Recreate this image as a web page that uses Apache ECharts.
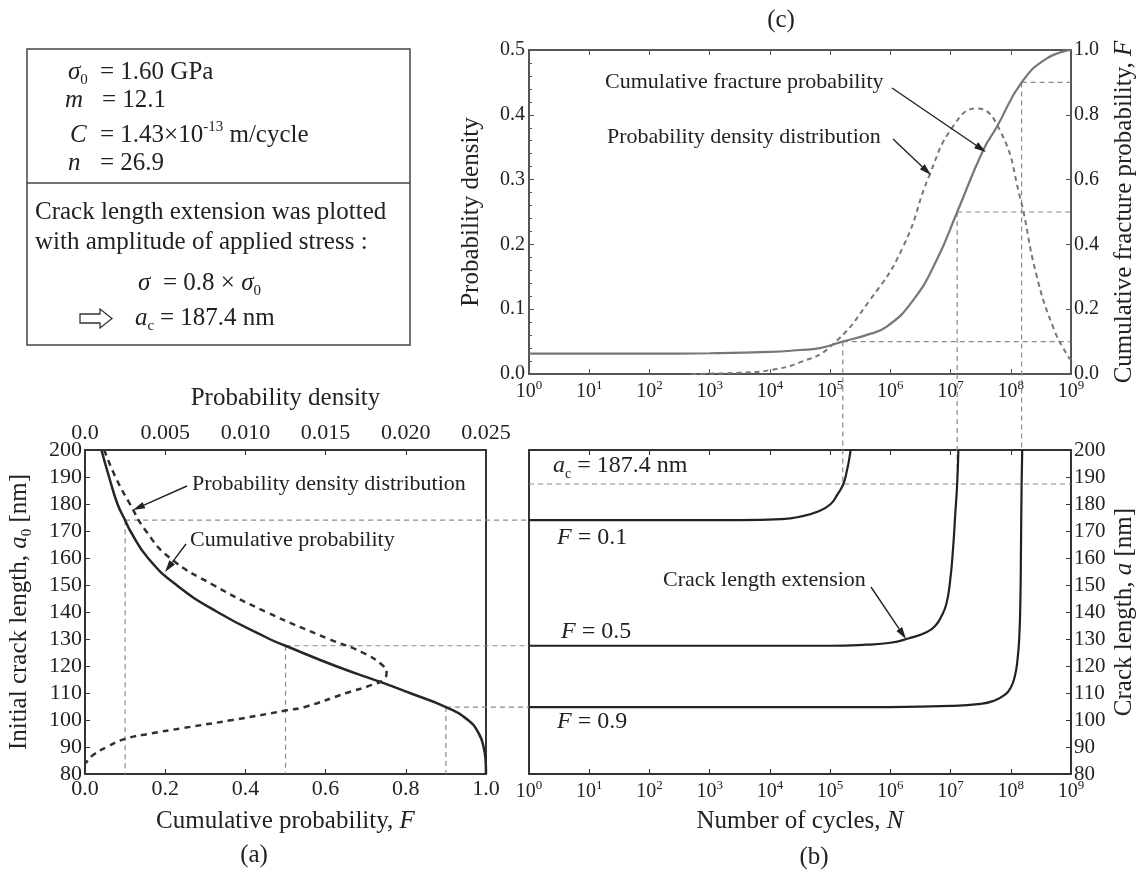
<!DOCTYPE html>
<html>
<head>
<meta charset="utf-8">
<title>Crack length extension and fracture probability</title>
<script src="https://cdn.jsdelivr.net/npm/echarts@6.0.0/dist/echarts.min.js"></script>
<style>
  html, body { margin: 0; background: #fff; }
  #chart { width: 1137px; height: 872px; }
</style>
</head>
<body>
<div id="chart"></div>
<script>
const FF = "'Liberation Serif', 'Times New Roman', serif";
const INK = '#222';

// (a) initial crack length a0 [nm] against cumulative probability F and its density
const a0Cum = [200, 190, 180, 174, 170, 160, 150, 140, 130, 127.5, 120, 114, 110, 104.8, 100, 95, 90, 85, 80];
const fCum = [0.041, 0.06, 0.081, 0.1, 0.113, 0.157, 0.228, 0.33, 0.46, 0.5, 0.625, 0.738, 0.81, 0.9, 0.955, 0.982, 0.994, 0.999, 1.0];
const a0Pdf = [200, 190, 180, 170, 160, 150, 140, 130, 125, 120, 117.5, 115, 113, 110, 105, 103.5, 100, 97, 95, 93, 90, 87, 84];
const pdfA0 = [0.0012, 0.0019, 0.0028, 0.0038, 0.0053, 0.008, 0.0113, 0.0152, 0.0173, 0.0186, 0.0188, 0.0186, 0.0179, 0.0163, 0.0138, 0.0125, 0.0092, 0.0061, 0.0041, 0.0025, 0.00135, 0.0005, 0.00005];

// (b) crack growth, exponent of N (cycles) and crack length a [nm], for F = 0.1, 0.5, 0.9
const growthLogN01 = [0, 3.5, 4.2, 4.5, 4.8, 5.0, 5.12, 5.22, 5.28, 5.32, 5.34];
const growthA01 = [174, 174, 174.4, 175.3, 177.2, 179.8, 183.5, 187.4, 192.5, 197, 200];
const growthLogN05 = [0, 5, 5.6, 6, 6.3, 6.6, 6.75, 6.85, 6.93, 6.99, 7.04, 7.08, 7.11, 7.13];
const growthA05 = [127.5, 127.5, 127.9, 128.6, 130.2, 132.5, 135, 138.5, 143, 151, 163, 177, 187.4, 200];
const growthLogN09 = [0, 6, 7, 7.5, 7.7, 7.9, 8.0, 8.07, 8.11, 8.14, 8.16, 8.17, 8.18, 8.19];
const growthA09 = [104.8, 104.8, 105.2, 106, 107, 109.3, 112, 116.5, 122, 130, 145, 165, 187.4, 200];
const acLength = 187.4;

// (c) fracture probability against exponent of N
const cdfLogN = [0, 2, 3, 4, 4.5, 4.83, 5.21, 5.6, 5.94, 6.38, 6.77, 7.11, 7.54, 7.77, 8.18, 8.6, 9];
const cdfF = [0.063, 0.063, 0.064, 0.068, 0.074, 0.08, 0.1, 0.12, 0.146, 0.228, 0.352, 0.5, 0.69, 0.763, 0.9, 0.974, 1.0];
const pdfLogN = [2.7, 3, 3.5, 4, 4.5, 5, 5.66, 6.21, 6.65, 7.04, 7.43, 7.82, 8.15, 8.42, 8.7, 8.95, 9];
const pdfN = [0, 0.0005, 0.002, 0.006, 0.018, 0.042, 0.114, 0.196, 0.307, 0.382, 0.41, 0.376, 0.274, 0.155, 0.073, 0.027, 0.022];

// reference levels
const levelF = [0.1, 0.5, 0.9];
const levelA0 = [174, 127.5, 104.8];
const levelLogN = [5.21, 7.11, 8.18];

const pow10 = e => Math.pow(10, e);
const zip = (xs, ys) => xs.map((x, i) => [x, ys[i]]);
const zipLog = (es, ys) => es.map((e, i) => [pow10(e), ys[i]]);

function richSet(size) {
  const small = Math.round(size * 0.6);
  return {
    i: { fontFamily: FF, fontSize: size, fontStyle: 'italic', lineHeight: size + 6, color: INK, fill: INK },
    sub: { fontFamily: FF, fontSize: small, lineHeight: small, verticalAlign: 'bottom', color: INK, fill: INK },
    sup: { fontFamily: FF, fontSize: small, lineHeight: small, verticalAlign: 'top', color: INK, fill: INK }
  };
}

function nameStyle(size) {
  return { fontFamily: FF, fontSize: size, color: INK, lineHeight: size + 6, rich: richSet(size) };
}

function frameLine(color, width) {
  return { show: true, onZero: false, lineStyle: { color, width } };
}

function ticks(color) {
  return { show: true, inside: true, length: 5, lineStyle: { color, width: 1 } };
}

const decadeLabel = v => '{b|10}{s|' + Math.round(Math.log10(v)) + '}';
const decadeRich = {
  b: { fontFamily: FF, fontSize: 20, lineHeight: 26, color: INK },
  s: { fontFamily: FF, fontSize: 13, lineHeight: 13, verticalAlign: 'top', color: INK }
};

function logAxis(gridIndex, position, withLabels, color, extra) {
  return Object.assign({
    type: 'log', logBase: 10, gridIndex, position, min: 1, max: 1e9,
    axisLine: frameLine(color, 2),
    axisTick: ticks(color),
    splitLine: { show: false },
    axisLabel: withLabels
      ? { show: true, formatter: decadeLabel, rich: decadeRich, margin: 5 }
      : { show: false }
  }, extra || {});
}

function curve(xi, yi, data, color, width, type) {
  return {
    type: 'line', xAxisIndex: xi, yAxisIndex: yi, data,
    symbol: 'none', showSymbol: false, silent: true, z: 3,
    smooth: 0.5,
    lineStyle: { color, width, type }
  };
}

function guide(xi, yi, data) {
  return {
    type: 'line', xAxisIndex: xi, yAxisIndex: yi, data,
    symbol: 'none', showSymbol: false, silent: true, z: 2,
    lineStyle: { color: '#8a8a8a', width: 1.2, type: [5, 4] }
  };
}

const DARK = '#333';
const GREY = '#555';

const series = [
  // (a)
  curve(0, 0, zip(fCum, a0Cum), '#262626', 2.5, 'solid'),
  curve(1, 0, zip(pdfA0, a0Pdf), '#303030', 2.5, [6, 5]),
  // (b)
  curve(2, 3, zipLog(growthLogN01, growthA01), '#222', 2.2, 'solid'),
  curve(2, 3, zipLog(growthLogN05, growthA05), '#222', 2.2, 'solid'),
  curve(2, 3, zipLog(growthLogN09, growthA09), '#222', 2.2, 'solid'),
  guide(2, 3, [[1, acLength], [1e9, acLength]]),
  // (c)
  curve(4, 5, zipLog(cdfLogN, cdfF), '#777', 2.2, 'solid'),
  curve(4, 4, zipLog(pdfLogN, pdfN), '#777', 2, [5, 4])
];
levelF.forEach((f, i) => {
  series.push(guide(0, 0, [[f, levelA0[i]], [f, 80]]));
  series.push(guide(4, 5, [[pow10(levelLogN[i]), f], [1e9, f]]));
});

const option = {
  animation: false,
  backgroundColor: '#fff',
  textStyle: { fontFamily: FF, color: INK },
  grid: [
    { left: 85, top: 450, width: 401, height: 324, outerBoundsMode: 'none' },
    { left: 529, top: 450, width: 542, height: 324, outerBoundsMode: 'none' },
    { left: 529, top: 50, width: 542, height: 324, outerBoundsMode: 'none' }
  ],
  xAxis: [
    {
      type: 'value', gridIndex: 0, position: 'bottom', min: 0, max: 1, interval: 0.2,
      axisLine: frameLine(DARK, 2), axisTick: ticks(DARK), splitLine: { show: false },
      axisLabel: { formatter: v => v.toFixed(1), fontFamily: FF, fontSize: 22, color: INK, margin: 4 },
      name: 'Cumulative probability, {i|F}', nameLocation: 'middle', nameGap: 32, nameTextStyle: nameStyle(25)
    },
    {
      type: 'value', gridIndex: 0, position: 'top', min: 0, max: 0.025, interval: 0.005,
      axisLine: frameLine(DARK, 2), axisTick: ticks(DARK), splitLine: { show: false },
      axisLabel: { formatter: v => (v === 0 ? '0.0' : v.toFixed(3)), fontFamily: FF, fontSize: 22, color: INK, margin: 6 },
      name: 'Probability density', nameLocation: 'middle', nameGap: 36, nameTextStyle: nameStyle(25)
    },
    logAxis(1, 'bottom', true, DARK, {
      name: 'Number of cycles, {i|N}', nameLocation: 'middle', nameGap: 32, nameTextStyle: nameStyle(25)
    }),
    logAxis(1, 'top', false, DARK),
    logAxis(2, 'bottom', true, GREY),
    logAxis(2, 'top', false, GREY)
  ],
  yAxis: [
    {
      type: 'value', gridIndex: 0, position: 'left', min: 80, max: 200, interval: 10,
      axisLine: frameLine(DARK, 2), axisTick: ticks(DARK), splitLine: { show: false },
      axisLabel: { fontFamily: FF, fontSize: 22, color: INK, margin: 3 },
      name: 'Initial crack length, {i|a}{sub|0} [nm]', nameLocation: 'middle', nameRotate: 90, nameGap: 50,
      nameTextStyle: nameStyle(25)
    },
    {
      type: 'value', gridIndex: 0, position: 'right', min: 80, max: 200, interval: 10,
      axisLine: frameLine(DARK, 2), axisTick: { show: false }, splitLine: { show: false }, axisLabel: { show: false }
    },
    {
      type: 'value', gridIndex: 1, position: 'left', min: 80, max: 200, interval: 10,
      axisLine: frameLine(DARK, 2), axisTick: { show: false }, splitLine: { show: false }, axisLabel: { show: false }
    },
    {
      type: 'value', gridIndex: 1, position: 'right', min: 80, max: 200, interval: 10,
      axisLine: frameLine(DARK, 2), axisTick: ticks(DARK), splitLine: { show: false },
      axisLabel: { fontFamily: FF, fontSize: 21, color: INK, margin: 3 },
      name: 'Crack length, {i|a} [nm]', nameLocation: 'middle', nameRotate: 90, nameGap: 38,
      nameTextStyle: nameStyle(25)
    },
    {
      type: 'value', gridIndex: 2, position: 'left', min: 0, max: 0.5, interval: 0.1,
      axisLine: frameLine(GREY, 2), axisTick: ticks(GREY),
      minorTick: { show: true, splitNumber: 5, length: 3, lineStyle: { color: GREY } },
      splitLine: { show: false },
      axisLabel: { formatter: v => v.toFixed(1), fontFamily: FF, fontSize: 20, color: INK, margin: 4 },
      name: 'Probability density', nameLocation: 'middle', nameRotate: 90, nameGap: 42,
      nameTextStyle: nameStyle(25)
    },
    {
      type: 'value', gridIndex: 2, position: 'right', min: 0, max: 1, interval: 0.2,
      axisLine: frameLine(GREY, 2), axisTick: ticks(GREY), splitLine: { show: false },
      axisLabel: { formatter: v => v.toFixed(1), fontFamily: FF, fontSize: 20, color: INK, margin: 3 },
      name: 'Cumulative fracture probability, {i|F}', nameLocation: 'middle', nameRotate: 90, nameGap: 38,
      nameTextStyle: nameStyle(25)
    }
  ],
  series
};

const chart = echarts.init(document.getElementById('chart'), null, { renderer: 'canvas' });
chart.setOption(option);

// ---- annotations ----
function text(str, x, y, size, align) {
  return {
    type: 'text', silent: true, z: 10,
    style: {
      text: str, x, y, fill: INK, fontFamily: FF, fontSize: size, lineHeight: size + 6,
      align: align || 'left', textAlign: align || 'left',
      verticalAlign: 'middle', textVerticalAlign: 'middle',
      rich: richSet(size)
    }
  };
}

function arrow(x1, y1, x2, y2) {
  const ang = Math.atan2(y2 - y1, x2 - x1);
  const L = 12, W = 3.5;
  const bx = x2 - L * Math.cos(ang), by = y2 - L * Math.sin(ang);
  const nx = -Math.sin(ang) * W, ny = Math.cos(ang) * W;
  return [
    { type: 'line', silent: true, z: 10, shape: { x1, y1, x2: bx, y2: by }, style: { stroke: INK, lineWidth: 1.4 } },
    { type: 'polygon', silent: true, z: 10, shape: { points: [[x2, y2], [bx + nx, by + ny], [bx - nx, by - ny]] }, style: { fill: INK } }
  ];
}

function dashed(p, q) {
  return {
    type: 'line', silent: true, z: 2,
    shape: { x1: p[0], y1: p[1], x2: q[0], y2: q[1] },
    style: { stroke: '#8a8a8a', lineWidth: 1.2, lineDash: [5, 4] }
  };
}

const elements = [];

// parameter box
elements.push({ type: 'rect', silent: true, shape: { x: 27, y: 49, width: 383, height: 296 }, style: { fill: 'none', stroke: '#444', lineWidth: 1.5 } });
elements.push({ type: 'line', silent: true, shape: { x1: 27, y1: 183, x2: 410, y2: 183 }, style: { stroke: '#444', lineWidth: 1.5 } });
elements.push(text('{i|σ}{sub|0}', 68, 72, 25));
elements.push(text('= 1.60 GPa', 100, 72, 25));
elements.push(text('{i|m}', 65, 100, 25));
elements.push(text('= 12.1', 102, 100, 25));
elements.push(text('{i|C}', 70, 135, 25));
elements.push(text('= 1.43×10{sup|-13} m/cycle', 100, 135, 25));
elements.push(text('{i|n}', 68, 163, 25));
elements.push(text('= 26.9', 100, 163, 25));
elements.push(text('Crack length extension was plotted', 35, 212, 25));
elements.push(text('with amplitude of applied stress :', 35, 242, 25));
elements.push(text('{i|σ}', 138, 283, 25));
elements.push(text('= 0.8 × {i|σ}{sub|0}', 163, 283, 25));
elements.push({
  type: 'polygon', silent: true,
  shape: { points: [[80, 314], [100, 314], [100, 309], [112, 318.5], [100, 328], [100, 323], [80, 323]] },
  style: { fill: 'none', stroke: '#333', lineWidth: 1.3 }
});
elements.push(text('{i|a}{sub|c}', 135, 318, 25));
elements.push(text('= 187.4 nm', 160, 318, 25));

// panel captions
elements.push(text('(a)', 254, 855, 25, 'center'));
elements.push(text('(b)', 814, 857, 25, 'center'));
elements.push(text('(c)', 781, 20, 25, 'center'));

// (c) labels
elements.push(text('Cumulative fracture probability', 605, 82, 22));
elements.push(...arrow(892, 88, 986, 152));
elements.push(text('Probability density distribution', 607, 137, 22));
elements.push(...arrow(893, 139, 931, 175));

// (a) labels
elements.push(text('Probability density distribution', 192, 484, 22));
elements.push(...arrow(187, 486, 133, 510));
elements.push(text('Cumulative probability', 190, 540, 22));
elements.push(...arrow(186, 544, 165, 572));

// (b) labels
elements.push(text('{i|a}{sub|c} = 187.4 nm', 553, 466, 24));
elements.push(text('{i|F} = 0.1', 557, 538, 24));
elements.push(text('{i|F} = 0.5', 561, 632, 24));
elements.push(text('{i|F} = 0.9', 557, 722, 24));
elements.push(text('Crack length extension', 663, 580, 22));
elements.push(...arrow(871, 587, 906, 639));

// guide lines crossing between panels, placed through the axes
levelF.forEach((f, i) => {
  const n = pow10(levelLogN[i]);
  const top = chart.convertToPixel({ xAxisIndex: 4, yAxisIndex: 5 }, [n, f]);
  const low = chart.convertToPixel({ xAxisIndex: 2, yAxisIndex: 3 }, [n, acLength]);
  elements.push(dashed(top, low));
  const left = chart.convertToPixel({ xAxisIndex: 0, yAxisIndex: 0 }, [f, levelA0[i]]);
  const right = chart.convertToPixel({ xAxisIndex: 2, yAxisIndex: 3 }, [1, levelA0[i]]);
  elements.push(dashed(left, right));
});

chart.setOption({ graphic: { elements } });
</script>
</body>
</html>
